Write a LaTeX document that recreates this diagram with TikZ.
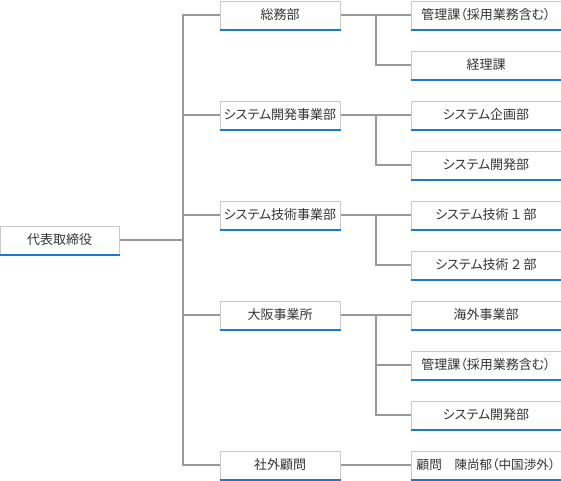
\documentclass[tikz,border=0pt]{standalone}
\usepackage{fontspec}
\usepackage{tikz}
\usetikzlibrary{positioning,calc}
\newfontfamily\jpfont[RawFeature=+palt]{Noto Sans CJK JP}
\definecolor{orgline}{HTML}{999999}
\definecolor{orgframe}{HTML}{C8C8C8}
\definecolor{orgblue}{HTML}{1A7AD4}
\definecolor{orgtext}{HTML}{333333}
\newcommand{\numsp}[1]{\kern0.2em#1\kern0.2em}

\begin{document}
\begin{tikzpicture}[x=1pt,y=-1pt,font=\jpfont\fontsize{13}{15}\selectfont,
  box/.style={draw=orgframe,line width=1pt,fill=white,minimum height=28pt,inner sep=0pt,text=orgtext,anchor=center},
  top/.style={box,minimum width=119pt},
  dept/.style={box,minimum width=120pt},
  sect/.style={box,minimum width=150pt},
  uline/.style={draw=orgblue,line width=2.5pt},
  link/.style={draw=orgline,line width=2pt}]
  \useasboundingbox (0,0) rectangle (561,480);
  % top
  \node[top]  (ceo) at (59.5,240) {代表取締役};
  % departments
  \node[dept] (d1) at (280,15)  {総務部};
  \node[dept] (d2) at (280,115) {システム開発事業部};
  \node[dept] (d3) at (280,215) {システム技術事業部};
  \node[dept] (d4) at (280,315) {大阪事業所};
  \node[dept] (d5) at (280,465) {社外顧問};
  % sections
  \node[sect] (s11) at (486,15)  {管理課（採用業務含む）};
  \node[sect] (s12) at (486,65)  {経理課};
  \node[sect] (s21) at (486,115) {システム企画部};
  \node[sect] (s22) at (486,165) {システム開発部};
  \node[sect] (s31) at (486,215) {システム技術\numsp{１}部};
  \node[sect] (s32) at (486,265) {システム技術\numsp{２}部};
  \node[sect] (s41) at (486,315) {海外事業部};
  \node[sect] (s42) at (486,365) {管理課（採用業務含む）};
  \node[sect] (s43) at (486,415) {システム開発部};
  \node[sect,font=\jpfont\fontsize{12.6}{15}\selectfont] (s51) at (486,465) {顧問　陳尚郁（中国渉外）};
  \foreach \n in {ceo,d1,d2,d3,d4,d5,s11,s12,s21,s22,s31,s32,s41,s42,s43,s51}
    \draw[uline] ([yshift=-0.25pt]\n.south west) -- ([yshift=-0.25pt]\n.south east);
  % trunk
  \coordinate (trunk) at (183,240);
  \draw[link] (ceo.east) -- (trunk);
  \draw[link] (d1.west) -- (trunk |- d1) -- (trunk |- d5) -- (d5.west);
  \foreach \n in {d2,d3,d4}
    \draw[link] (trunk |- \n) -- (\n.west);
  % branches
  \coordinate (fork) at (376,0);
  \draw[link] (d1.east) -- (s11.west);
  \draw[link] (fork |- d1) |- (s12.west);
  \draw[link] (d2.east) -- (s21.west);
  \draw[link] (fork |- d2) |- (s22.west);
  \draw[link] (d3.east) -- (s31.west);
  \draw[link] (fork |- d3) |- (s32.west);
  \draw[link] (d4.east) -- (s41.west);
  \draw[link] (fork |- d4) |- (s43.west);
  \draw[link] (fork |- s42) -- (s42.west);
  \draw[link] (d5.east) -- (s51.west);
\end{tikzpicture}
\end{document}
